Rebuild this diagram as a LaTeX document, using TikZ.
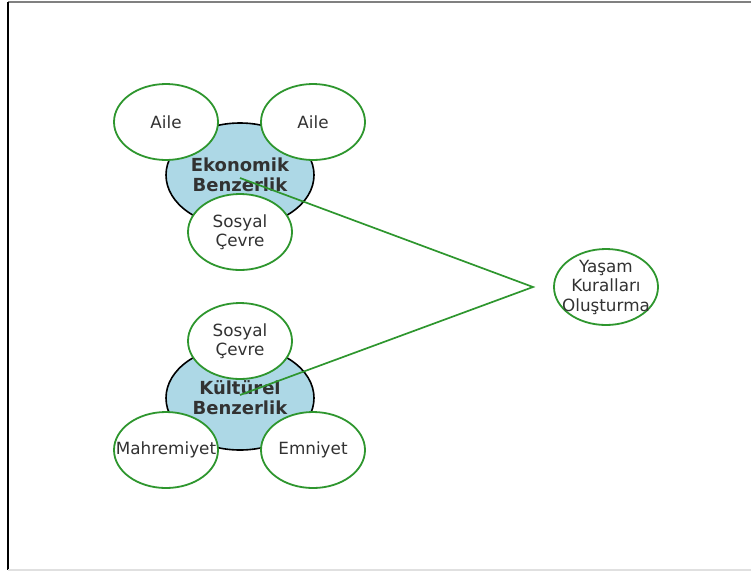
\documentclass[tikz,border=0pt]{standalone}
\usepackage{fontspec}
\setmainfont{DejaVu Sans}
\usetikzlibrary{shapes.geometric}
\definecolor{leaf}{RGB}{46,150,46}
\definecolor{sky}{RGB}{173,216,230}
\definecolor{ink}{RGB}{50,50,50}

\begin{document}
\begin{tikzpicture}[x=1pt,y=-1pt]
\tikzstyle{core}=[ellipse,draw=black,fill=sky,line width=1.6pt,minimum width=148pt,minimum height=104pt,inner sep=0pt,text=ink,font=\bfseries\fontsize{18}{20}\selectfont,align=center]
\tikzstyle{bubble}=[ellipse,draw=leaf,fill=white,line width=1.8pt,minimum width=104pt,minimum height=76pt,inner sep=0pt,text=ink,font=\fontsize{16.8}{19.5}\selectfont,align=center]
\tikzstyle{snug}=[inner sep=-14pt]
\tikzstyle{link}=[draw=leaf,line width=1.7pt]
\useasboundingbox (0,0) rectangle (751,571);
% frame
\draw [gray, line width=2pt] (8,2) -- (751,2);
\draw [black, line width=2pt] (8,2) -- (8,570);
\draw [black!12, line width=2pt] (8,569.5) -- (751,569.5);
% upper group
\node [core] (eko) at (240,175) {Ekonomik\\Benzerlik};
\node [bubble] (aile1) at (166,122) {Aile};
\node [bubble] (aile2) at (313,122) {Aile};
\node [bubble] (sosyal1) at (240,232) {Sosyal\\Çevre};
% lower group
\node [core] (kultur) at (240,398) {Kültürel\\Benzerlik};
\node [bubble] (sosyal2) at (240,341) {Sosyal\\Çevre};
\node [bubble, snug] (mahrem) at (166,450) {Mahremiyet};
\node [bubble] (emniyet) at (313,450) {Emniyet};
% target
\node [bubble, snug] (yasam) at (606,287) {Yaşam\\Kuralları\\Oluşturma};
\coordinate (meet) at (533,287);
\draw [link] ([yshift=-3pt]eko.center) -- (meet) -- ([yshift=3pt]kultur.center);
\end{tikzpicture}
\end{document}
